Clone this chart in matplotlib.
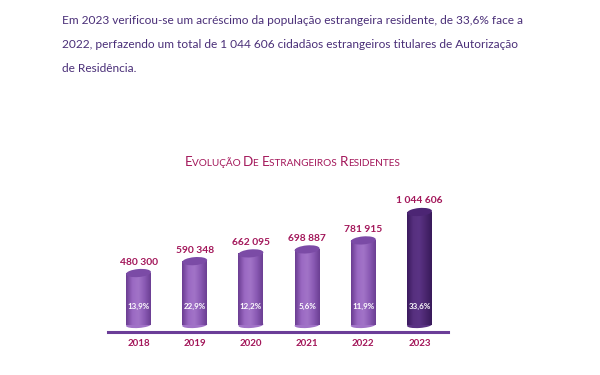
import matplotlib
matplotlib.use('Agg')
import matplotlib.pyplot as plt
import numpy as np
from matplotlib.patches import Ellipse
from matplotlib.transforms import IdentityTransform, ScaledTranslation
from matplotlib.colors import LinearSegmentedColormap

years = ['2018', '2019', '2020', '2021', '2022', '2023']
residents = [480300, 590348, 662095, 698887, 781915, 1044606]
growth = ['13,9%', '22,9%', '12,2%', '5,6%', '11,9%', '33,6%']

paragraph = [
    "Em 2023 verificou-se um acréscimo da população estrangeira residente, de 33,6% face a",
    "2022, perfazendo um total de 1 044 606 cidadãos estrangeiros titulares de Autorização",
    "de Residência.",
]
title_parts = [("E", True), ("VOLUÇÃO ", False), ("D", True), ("E ", False),
               ("E", True), ("STRANGEIROS ", False), ("R", True), ("ESIDENTES", False)]

FONT = ['Lato', 'DejaVu Sans']
plt.rcParams['font.family'] = FONT
TEXT_COL = '#4a2f78'
RED = '#a3175a'

W, H = 600, 375
fig = plt.figure(figsize=(6, 3.75), dpi=100)

fig.canvas.draw()
r = fig.canvas.get_renderer()
for i, line in enumerate(paragraph):
    fig.text(62 / W, 1 - (21 + 23.5 * i) / H, line, fontsize=8.6, color=TEXT_COL,
             va='center', ha='left')

# title in small caps
texts = []
for s, big in title_parts:
    t = fig.text(0, 1 - 162 / H, s, fontsize=9.6 if big else 7.2, color=RED,
                 va='baseline', ha='left')
    texts.append(t)
widths = [t.get_window_extent(r).width for t in texts]
total = sum(widths)
x0 = 292 - total / 2
base = 1 - 166 / H
for t, w in zip(texts, widths):
    t.set_position((x0 / W, base))
    x0 += w

# axes
left_px, right_px = 108, 448
base_px, top_px = 332, 150
ax = fig.add_axes([left_px / W, 1 - base_px / H, (right_px - left_px) / W, (base_px - top_px) / H])
px_per_unit = 56.2
x = np.arange(len(years))
xlo = -(138.5 - left_px) / px_per_unit
xhi = xlo + (right_px - left_px) / px_per_unit
val_per_px = 1044606 / (325 - 212)
ylo = -(base_px - 325) * val_per_px
yhi = ylo + (base_px - top_px) * val_per_px
ax.set_xlim(xlo, xhi)
ax.set_ylim(ylo, yhi)
ax.axis('off')

bw = 25 / px_per_unit
bars = ax.bar(x, residents, width=bw, color='none', edgecolor='none', zorder=2)

cm_light = LinearSegmentedColormap.from_list('l', ['#6a3c91', '#9a68c2', '#a274c8', '#8a5ab4', '#6b3f93'])
cm_dark = LinearSegmentedColormap.from_list('d', ['#3a1a5e', '#57307f', '#5a3384', '#4a266f', '#381a5a'])
grad = np.linspace(0, 1, 64).reshape(1, -1)

bw_px = ax.transData.transform((bw, 0))[0] - ax.transData.transform((0, 0))[0]
for i, (b, v) in enumerate(zip(bars, residents)):
    last = i == len(years) - 1
    cm = cm_dark if last else cm_light
    xb = b.get_x()
    im = ax.imshow(grad, cmap=cm, extent=[xb, xb + bw, 0, v], aspect='auto', zorder=2,
                   interpolation='bicubic')
    im.set_clip_path(b)
    bot = Ellipse((0, 0), bw_px, 6, angle=4,
                  transform=IdentityTransform() + ScaledTranslation(x[i], 0, ax.transData),
                  facecolor=cm(0.45), edgecolor='none', zorder=1.9)
    ax.add_patch(bot)
    top = Ellipse((0, 0), bw_px, 8, angle=5,
                  transform=IdentityTransform() + ScaledTranslation(x[i], v, ax.transData),
                  facecolor='#4c2574' if last else '#7b4ba6', edgecolor='none', zorder=3)
    ax.add_patch(top)
    ax.annotate(f"{v:,}".replace(',', ' '), (x[i], v), xytext=(0, 11), textcoords='offset pixels',
                ha='center', va='center', fontsize=7.4, fontweight='bold', color=RED)
    ax.annotate(growth[i], (x[i], 0), xytext=(0, 19), textcoords='offset pixels',
                ha='center', va='center', fontsize=5.8, fontweight='bold', color='white', zorder=4)
    ax.annotate(years[i], (x[i], ylo), xytext=(0, -12), textcoords='offset pixels',
                ha='center', va='center', fontsize=7, fontweight='bold', color=RED,
                annotation_clip=False)

ax.axhline(ylo, color='#6b3d98', lw=2.2, zorder=5, clip_on=False)

ax.set_xlim(xlo, xhi)
ax.set_ylim(ylo, yhi)
fig.savefig('out.png', dpi=100, facecolor='white')
